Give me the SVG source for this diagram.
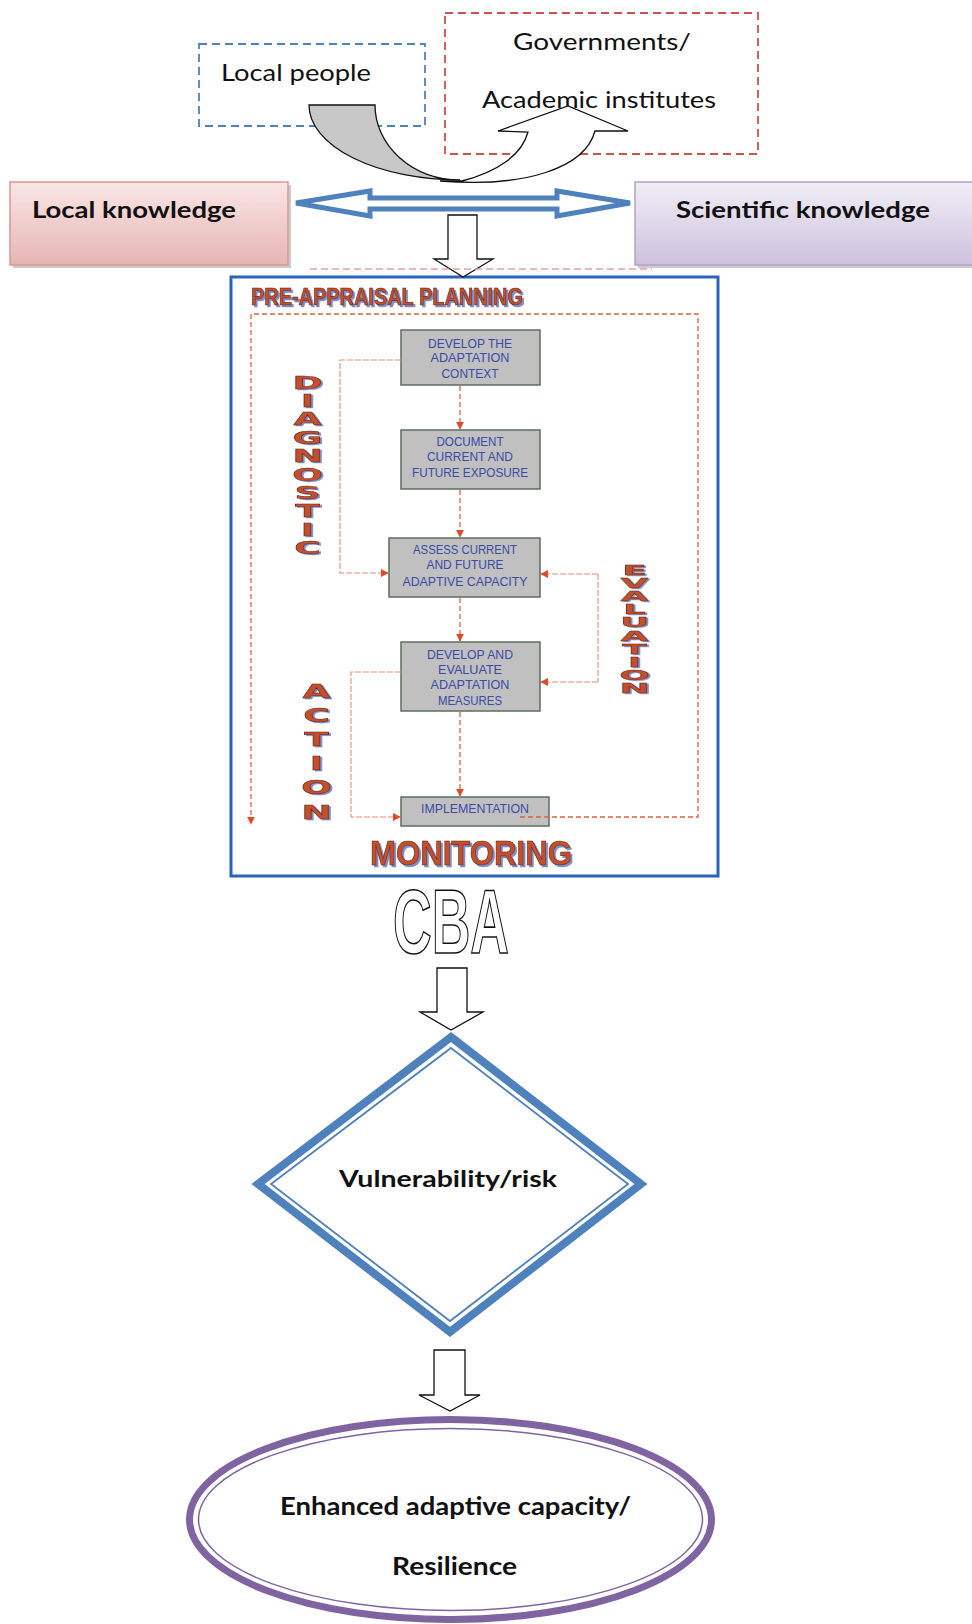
<svg xmlns="http://www.w3.org/2000/svg" width="972" height="1624" viewBox="0 0 972 1624">
<defs>
<style>
.lbl{font-family:Lato,"Liberation Sans",sans-serif;fill:#111}
.bold{font-family:Lato,"Liberation Sans",sans-serif;font-weight:bold;fill:#111}
.box{fill:#c0c0c0;stroke:#5b6e60;stroke-width:1.5}
.bt{font-family:"Liberation Sans",sans-serif;font-size:13px;fill:#3b4ba6;text-anchor:middle}
.wa{font-family:"Liberation Sans",sans-serif;font-weight:bold;fill:#c4502a;stroke:#5a1e0c;stroke-width:0.6;filter:url(#sh)}
.vl{font-family:"DejaVu Sans",sans-serif;font-weight:bold;font-size:36px;text-anchor:middle;fill:#c4502a;stroke:#5a1e0c;stroke-width:0.8;filter:url(#sh)}
.rd{fill:none;stroke:#e0603c;stroke-width:1.3;stroke-dasharray:5 3}
.rl{fill:none;stroke:#e58a78;stroke-width:1.1;stroke-dasharray:6 2}
.blk{fill:#fff;stroke:#111;stroke-width:1.3}
</style>
<filter id="sh" x="-20%" y="-20%" width="140%" height="140%"><feDropShadow dx="2" dy="2" stdDeviation="0.6" flood-color="#6f7fb8" flood-opacity="0.9"/></filter>
<linearGradient id="gL" x1="0" y1="0" x2="0" y2="1"><stop offset="0" stop-color="#fae6e6"/><stop offset="1" stop-color="#e6b5b3"/></linearGradient>
<linearGradient id="gS" x1="0" y1="0" x2="0" y2="1"><stop offset="0" stop-color="#f1eef7"/><stop offset="1" stop-color="#cdc1dd"/></linearGradient>
<marker id="ra" viewBox="0 0 10 10" refX="9" refY="5" markerWidth="8" markerHeight="8" markerUnits="userSpaceOnUse" orient="auto"><path d="M0,0 L10,5 L0,10 Z" fill="#df4a28"/></marker>
</defs>
<rect width="972" height="1624" fill="#fff"/>

<g id="local-people">
<rect x="199" y="44" width="226" height="82" fill="none" stroke="#4f81bd" stroke-width="1.8" stroke-dasharray="8 5"/>
<text class="lbl" x="221" y="81" font-size="24" textLength="150" lengthAdjust="spacingAndGlyphs">Local people</text>
</g>
<g id="governments">
<rect x="445" y="13" width="313" height="141" fill="none" stroke="#d0504d" stroke-width="1.8" stroke-dasharray="8 5"/>
<text class="lbl" x="513" y="50" font-size="24" textLength="178" lengthAdjust="spacingAndGlyphs">Governments/</text>
<text class="lbl" x="482" y="108" font-size="24" textLength="234" lengthAdjust="spacingAndGlyphs">Academic institutes</text>
</g>

<g id="local-knowledge">
<rect x="13" y="185" width="278" height="83" fill="#9a9a9a" opacity="0.5"/>
<rect x="10" y="182" width="278" height="83" fill="url(#gL)" stroke="#d99694" stroke-width="1.5"/>
<text class="bold" x="32" y="218" font-size="22" textLength="204" lengthAdjust="spacingAndGlyphs">Local knowledge</text>
</g>
<g id="scientific-knowledge">
<rect x="638" y="185" width="340" height="83" fill="#9a9a9a" opacity="0.5"/>
<rect x="635" y="182" width="340" height="83" fill="url(#gS)" stroke="#b3a2c7" stroke-width="1.5"/>
<text class="bold" x="676" y="218" font-size="22" textLength="254" lengthAdjust="spacingAndGlyphs">Scientific knowledge</text>
</g>

<g id="planning-frame">
<rect x="231" y="277" width="487" height="599" fill="#fff" stroke="#2a64b8" stroke-width="3"/>
<text class="wa" x="251" y="305" font-size="23" textLength="272" lengthAdjust="spacingAndGlyphs">PRE-APPRAISAL PLANNING</text>
<text class="wa" x="370" y="865" font-size="35" textLength="202" lengthAdjust="spacingAndGlyphs">MONITORING</text>
</g>

<g id="box-context">
<rect class="box" x="401" y="330" width="139" height="55"/>
<text class="bt" x="470" y="348" textLength="84" lengthAdjust="spacingAndGlyphs">DEVELOP THE</text>
<text class="bt" x="470" y="362" textLength="79" lengthAdjust="spacingAndGlyphs">ADAPTATION</text>
<text class="bt" x="470" y="378" textLength="57" lengthAdjust="spacingAndGlyphs">CONTEXT</text>
</g>
<g id="box-exposure">
<rect class="box" x="401" y="430" width="139" height="59"/>
<text class="bt" x="470" y="446" textLength="67" lengthAdjust="spacingAndGlyphs">DOCUMENT</text>
<text class="bt" x="470" y="461" textLength="86" lengthAdjust="spacingAndGlyphs">CURRENT AND</text>
<text class="bt" x="470" y="477" textLength="116" lengthAdjust="spacingAndGlyphs">FUTURE EXPOSURE</text>
</g>
<g id="box-capacity">
<rect class="box" x="389" y="538" width="151" height="59"/>
<text class="bt" x="465" y="554" textLength="104" lengthAdjust="spacingAndGlyphs">ASSESS CURRENT</text>
<text class="bt" x="465" y="569" textLength="77" lengthAdjust="spacingAndGlyphs">AND FUTURE</text>
<text class="bt" x="465" y="586" textLength="125" lengthAdjust="spacingAndGlyphs">ADAPTIVE CAPACITY</text>
</g>
<g id="box-measures">
<rect class="box" x="401" y="642" width="139" height="69"/>
<text class="bt" x="470" y="659" textLength="86" lengthAdjust="spacingAndGlyphs">DEVELOP AND</text>
<text class="bt" x="470" y="674" textLength="64" lengthAdjust="spacingAndGlyphs">EVALUATE</text>
<text class="bt" x="470" y="689" textLength="79" lengthAdjust="spacingAndGlyphs">ADAPTATION</text>
<text class="bt" x="470" y="705" textLength="64" lengthAdjust="spacingAndGlyphs">MEASURES</text>
</g>
<g id="box-implementation">
<rect class="box" x="401" y="797" width="148" height="29"/>
<text class="bt" x="475" y="813" textLength="108" lengthAdjust="spacingAndGlyphs">IMPLEMENTATION</text>
</g>

<g id="label-diagnostic">
<text class="vl" transform="translate(307.5,388.5) scale(1,0.48)">D</text>
<text class="vl" transform="translate(307.5,406.9) scale(1,0.48)">I</text>
<text class="vl" transform="translate(307.5,425.3) scale(1,0.48)">A</text>
<text class="vl" transform="translate(307.5,443.7) scale(1,0.48)">G</text>
<text class="vl" transform="translate(307.5,462.1) scale(1,0.48)">N</text>
<text class="vl" transform="translate(307.5,480.5) scale(1,0.48)">O</text>
<text class="vl" transform="translate(307.5,498.9) scale(1,0.48)">S</text>
<text class="vl" transform="translate(307.5,517.3) scale(1,0.48)">T</text>
<text class="vl" transform="translate(307.5,535.7) scale(1,0.48)">I</text>
<text class="vl" transform="translate(307.5,554.1) scale(1,0.48)">C</text>
</g>
<g id="label-evaluation">
<text class="vl" transform="translate(634.5,574.5) scale(1,0.4)">E</text>
<text class="vl" transform="translate(634.5,587.7) scale(1,0.4)">V</text>
<text class="vl" transform="translate(634.5,600.9) scale(1,0.4)">A</text>
<text class="vl" transform="translate(634.5,614.1) scale(1,0.4)">L</text>
<text class="vl" transform="translate(634.5,627.3) scale(1,0.4)">U</text>
<text class="vl" transform="translate(634.5,640.5) scale(1,0.4)">A</text>
<text class="vl" transform="translate(634.5,653.7) scale(1,0.4)">T</text>
<text class="vl" transform="translate(634.5,666.9) scale(1,0.4)">I</text>
<text class="vl" transform="translate(634.5,680.1) scale(1,0.4)">O</text>
<text class="vl" transform="translate(634.5,693.3) scale(1,0.4)">N</text>
</g>
<g id="label-action">
<text class="vl" transform="translate(316.5,697.5) scale(1,0.56)">A</text>
<text class="vl" transform="translate(316.5,721.7) scale(1,0.56)">C</text>
<text class="vl" transform="translate(316.5,745.9) scale(1,0.56)">T</text>
<text class="vl" transform="translate(316.5,770.1) scale(1,0.56)">I</text>
<text class="vl" transform="translate(316.5,794.3) scale(1,0.56)">O</text>
<text class="vl" transform="translate(316.5,818.5) scale(1,0.56)">N</text>
</g>

<g id="cba">
<text x="393" y="953" font-family="Liberation Sans,sans-serif" font-weight="bold" font-size="90" fill="#fff" stroke="#111" stroke-width="1.6" textLength="116" lengthAdjust="spacingAndGlyphs">CBA</text>
</g>

<g id="vulnerability">
<polygon points="451,1037 641,1184 450,1332 258,1184" fill="#fff" stroke="#4f81bd" stroke-width="8"/>
<polygon points="451,1048 628,1184 450,1321 271,1184" fill="none" stroke="#4f81bd" stroke-width="1.8"/>
<text class="bold" x="339" y="1187" font-size="23" textLength="218" lengthAdjust="spacingAndGlyphs">Vulnerability/risk</text>
</g>

<g id="resilience">
<ellipse cx="450.5" cy="1519.5" rx="261" ry="100" fill="#fff" stroke="#8064a2" stroke-width="7"/>
<ellipse cx="450.5" cy="1519.5" rx="252" ry="91" fill="none" stroke="#8064a2" stroke-width="1.5"/>
<text class="bold" x="280" y="1515" font-size="24" textLength="351" lengthAdjust="spacingAndGlyphs">Enhanced adaptive capacity/</text>
<text class="bold" x="392" y="1575" font-size="24" textLength="125" lengthAdjust="spacingAndGlyphs">Resilience</text>
</g>

<g id="connectors">
<path d="M462,181 C497,172 522,155 528,132 L498,131 L568,106 L628,131 L595,131 C585,168 525,188 440,181 Z" fill="#fff" stroke="#111" stroke-width="1.3"/>
<path d="M309,105 A151,75 0 0,0 460,180 A85,75 0 0,1 375,105 Z" fill="#c8c8c8" stroke="#111" stroke-width="1.3"/>
<polygon points="296,203 370,191 370,198 557,198 557,191 630,203 557,216 557,209 370,209 370,216" fill="#fff" stroke="#4f81bd" stroke-width="5" stroke-linejoin="miter"/>
<polygon class="blk" points="448,215 477,215 477,259 493,259 463,277 434,259 448,259"/>
<line x1="310" y1="269" x2="652" y2="269" stroke="#e8a0a0" stroke-width="1.5" stroke-dasharray="7 4"/>
<path class="rd" d="M520,817 L698,817 L698,314 L251,314 L251,824" marker-end="url(#ra)"/>
<path class="rd" d="M460,386 L460,429" marker-end="url(#ra)"/>
<path class="rd" d="M460,490 L460,537" marker-end="url(#ra)"/>
<path class="rd" d="M460,598 L460,641" marker-end="url(#ra)"/>
<path class="rd" d="M460,712 L460,796" marker-end="url(#ra)"/>
<path class="rl" d="M401,360 L340,360 L340,573 L388,573" marker-end="url(#ra)"/>
<path class="rl" d="M401,672 L351,672 L351,817 L400,817" marker-end="url(#ra)"/>
<path class="rl" d="M598,574 L598,682"/>
<path class="rl" d="M598,574 L541,574" marker-end="url(#ra)"/>
<path class="rl" d="M598,682 L541,682" marker-end="url(#ra)"/>
<polygon class="blk" points="437,968 467,968 467,1012 483,1012 451,1030 420,1012 437,1012"/>
<polygon class="blk" points="434,1350 465,1350 465,1395 480,1395 450,1411 419,1395 434,1395"/>
</g>
</svg>
